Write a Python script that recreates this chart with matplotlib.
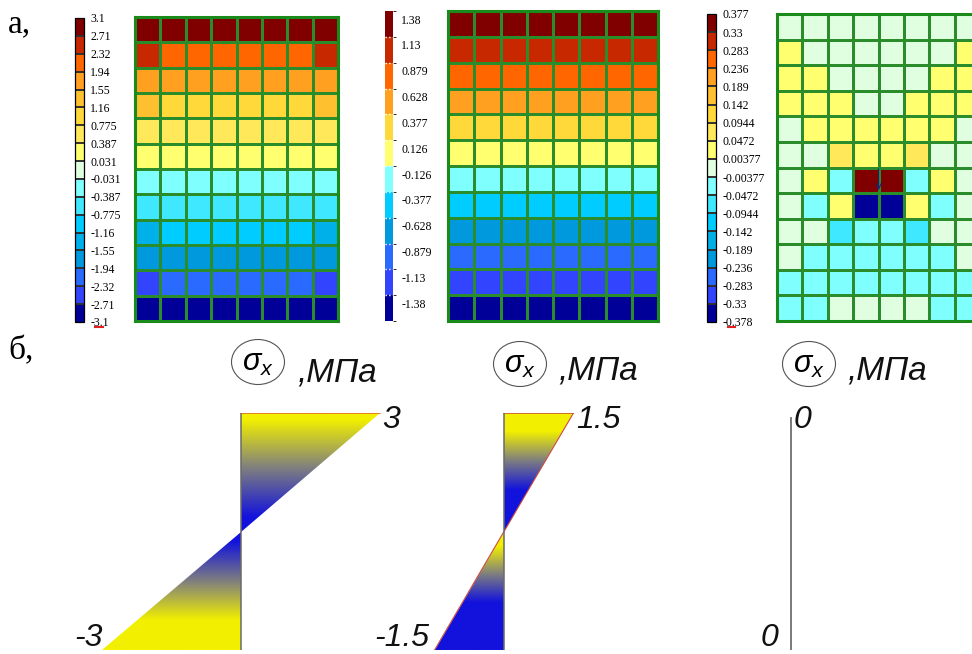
import numpy as np
import matplotlib
matplotlib.use('Agg')
import matplotlib.pyplot as plt
import matplotlib.cm as cm
from matplotlib.colors import ListedColormap, BoundaryNorm, LinearSegmentedColormap
from matplotlib.patches import Polygon, Ellipse

plt.rcParams['mathtext.fontset'] = 'custom'
plt.rcParams['mathtext.it'] = 'Liberation Sans:italic'
plt.rcParams['mathtext.rm'] = 'Liberation Sans'

#------------------------------- data ---------------------------------------#
# class colours, bottom (most negative) to top
colors17 = ['#000099', '#3344ff', '#2a6aff', '#0099dd', '#00b0e8', '#00ccff',
            '#40e8ff', '#80ffff', '#e0ffe0', '#ffff70', '#ffe85a', '#ffd83a',
            '#ffc030', '#ffa020', '#ff6600', '#c82800', '#800000']
colors12 = ['#000099', '#3344ff', '#2a6aff', '#0099dd', '#00ccff', '#80ffff',
            '#ffff70', '#ffd83a', '#ffa020', '#ff6600', '#c82800', '#800000']

levels_a1 = [-3.1, -2.71, -2.32, -1.94, -1.55, -1.16, -0.775, -0.387, -0.031,
             0.031, 0.387, 0.775, 1.16, 1.55, 1.94, 2.32, 2.71, 3.1]
labels_a2 = [-1.38, -1.13, -0.879, -0.628, -0.377, -0.126,
             0.126, 0.377, 0.628, 0.879, 1.13, 1.38]
levels_a3 = [-0.378, -0.33, -0.283, -0.236, -0.189, -0.142, -0.0944, -0.0472, -0.00377,
             0.00377, 0.0472, 0.0944, 0.142, 0.189, 0.236, 0.283, 0.33, 0.377]

# sigma_x in the 8 x 12 elements, top row first (MPa)
sx_a1 = [[2.9, 2.9, 2.9, 2.9, 2.9, 2.9, 2.9, 2.9],
         [2.5, 2.1, 2.1, 2.1, 2.1, 2.1, 2.1, 2.5],
         [1.75, 1.75, 1.75, 1.75, 1.75, 1.75, 1.75, 1.75],
         [1.35, 1.0, 1.0, 1.0, 1.0, 1.0, 1.0, 1.35],
         [0.6, 0.6, 0.6, 0.6, 0.6, 0.6, 0.6, 0.6],
         [0.2, 0.2, 0.2, 0.2, 0.2, 0.2, 0.2, 0.2],
         [-0.2, -0.2, -0.2, -0.2, -0.2, -0.2, -0.2, -0.2],
         [-0.6, -0.6, -0.6, -0.6, -0.6, -0.6, -0.6, -0.6],
         [-1.35, -1.0, -1.0, -1.0, -1.0, -1.0, -1.0, -1.35],
         [-1.75, -1.75, -1.75, -1.75, -1.75, -1.75, -1.75, -1.75],
         [-2.5, -2.1, -2.1, -2.1, -2.1, -2.1, -2.1, -2.5],
         [-2.9, -2.9, -2.9, -2.9, -2.9, -2.9, -2.9, -2.9]]

sx_a2 = [[1.38] * 8, [1.13] * 8, [0.879] * 8, [0.628] * 8, [0.377] * 8, [0.126] * 8,
         [-0.126] * 8, [-0.377] * 8, [-0.628] * 8, [-0.879] * 8, [-1.13] * 8, [-1.38] * 8]

sx_a3 = [[0.0, 0.0, 0.0, 0.0, 0.0, 0.0, 0.0, 0.0],
         [0.02, 0.0, 0.0, 0.0, 0.0, 0.0, 0.0, 0.02],
         [0.02, 0.02, 0.0, 0.0, 0.0, 0.0, 0.02, 0.02],
         [0.02, 0.02, 0.02, 0.0, 0.0, 0.02, 0.02, 0.02],
         [0.0, 0.02, 0.02, 0.02, 0.02, 0.02, 0.02, 0.0],
         [0.0, 0.0, 0.07, 0.02, 0.02, 0.07, 0.0, 0.0],
         [0.0, 0.02, -0.02, 0.35, 0.35, -0.02, 0.02, 0.0],
         [0.0, -0.02, 0.02, -0.35, -0.35, 0.02, -0.02, 0.0],
         [0.0, 0.0, -0.07, -0.02, -0.02, -0.07, 0.0, 0.0],
         [0.0, -0.02, -0.02, -0.02, -0.02, -0.02, -0.02, 0.0],
         [-0.02, -0.02, -0.02, -0.02, -0.02, -0.02, -0.02, -0.02],
         [-0.02, -0.02, 0.0, 0.0, 0.0, 0.0, -0.02, -0.02]]

# edge stress of the diagrams (MPa) and their labels
peaks_b = [3, 1.5, 0]
top_labels_b = ['3', '1.5', '0']
bot_labels_b = ['-3', '-1.5', '0']

#------------------------------- figure -------------------------------------#
W, H = 972, 654
fig = plt.figure(figsize=(W / 100, H / 100), dpi=100)


def px_axes(x0, y0, x1, y1):
    return fig.add_axes([x0 / W, 1 - y1 / H, (x1 - x0) / W, (y1 - y0) / H])


def draw_grid(box, values, levels, colors):
    ax = px_axes(*box)
    cmap = ListedColormap(colors)
    norm = BoundaryNorm(levels, cmap.N)
    ax.pcolormesh(np.array(values), cmap=cmap, norm=norm,
                  edgecolors='#2a8c2a', linewidth=0.8)
    ax.set_xlim(0, 8)
    ax.set_ylim(12, 0)
    ax.set_xticks([])
    ax.set_yticks([])
    for s in ax.spines.values():
        s.set_color('#1a8a1a')
        s.set_linewidth(2.2)
    return ax


def draw_cbar(box, levels, colors, ticks, ticklabels, pad, dotted=False):
    cax = px_axes(*box)
    cmap = ListedColormap(colors)
    norm = BoundaryNorm(levels, cmap.N)
    cb = fig.colorbar(cm.ScalarMappable(norm=norm, cmap=cmap), cax=cax,
                      spacing='uniform', drawedges=True)
    cb.set_ticks(ticks, labels=ticklabels)
    cax.tick_params(length=0, pad=pad, labelsize=8.5)
    for t in cax.get_yticklabels():
        t.set_fontfamily('Liberation Serif')
    if dotted:
        cb.dividers.set_color('white')
        cb.dividers.set_linestyle(':')
        cb.dividers.set_linewidth(1.0)
        cb.outline.set_visible(False)
    else:
        cb.dividers.set_color('#303030')
        cb.dividers.set_linewidth(1.4)
        cb.outline.set_linewidth(0.9)
    return cb


# panel a
lab_a1 = ['%g' % v for v in levels_a1]
draw_cbar((75, 18, 84, 322), levels_a1, colors17, levels_a1, lab_a1, 4.5)
draw_grid((135, 17, 338, 321), sx_a1, levels_a1, colors17)

step2 = labels_a2[1] - labels_a2[0]
bounds_a2 = [labels_a2[0] - step2 / 2] + \
    [(labels_a2[i] + labels_a2[i + 1]) / 2 for i in range(len(labels_a2) - 1)] + \
    [labels_a2[-1] + step2 / 2]
ticks_a2 = [v + 0.19 * step2 for v in labels_a2]
draw_cbar((385, 11, 393, 321), bounds_a2, colors12, ticks_a2,
          ['%g' % v for v in labels_a2], 6, dotted=True)
draw_grid((448, 11, 658, 321), sx_a2, bounds_a2, colors12)

lab_a3 = ['%g' % v for v in levels_a3]
draw_cbar((707, 14, 716, 322), levels_a3, colors17, levels_a3, lab_a3, 5)
ax3 = draw_grid((777, 14, 980, 321), sx_a3, levels_a3, colors17)
ax3.annotate('', xy=(4, 7.0), xytext=(4, 5.95),
             arrowprops=dict(arrowstyle='->', color='#20207a', lw=0.8))

# panel b: stress diagrams
yb_cmap = LinearSegmentedColormap.from_list('yb', ['#1212dd', '#7e7e80', '#f2f000'])
grad_b = [((0.12, 0.95), (-0.08, -0.75)),   # (y blue, y yellow) top / bottom
          ((0.35, 0.85), (-0.6, -0.12)),
          None]
edge_b = ['#e0602a', '#c84a3a', None]
bases_b = [240.7, 504, 791]
scale = 46.3   # px per MPa
yy = np.linspace(-1, 1, 400)[:, None] * np.ones((1, 4))

for i, peak in enumerate(peaks_b):
    xb = bases_b[i]
    ax = px_axes(xb - 200, 413, xb + 200, 650)
    ax.axis('off')
    if peak:
        tris = [[(0, 0), (0, 1), (peak, 1)], [(0, 0), (0, -1), (-peak, -1)]]
        for tri, (y_blue, y_yel) in zip(tris, grad_b[i]):
            g = np.clip((yy - y_blue) / (y_yel - y_blue), 0, 1)
            poly = Polygon(tri, closed=True, facecolor='none', edgecolor='none')
            ax.add_patch(poly)
            xs = [p[0] for p in tri]
            im = ax.imshow(g, cmap=yb_cmap, vmin=0, vmax=1, origin='lower',
                           extent=[min(xs), max(xs), -1, 1], aspect='auto',
                           interpolation='bilinear')
            im.set_clip_path(poly)
        ax.plot([0, peak], [1, 1], color=edge_b[i], lw=1.1)
        if i == 1:
            ax.plot([peak, -peak], [1, -1], color=edge_b[i], lw=0.8)
            ax.plot([0, -peak], [-1, -1], color='#3030b0', lw=0.8)
        ax.plot([0, 0], [-1, 1], color='#6a6a6a', lw=1.1)
    else:
        ax.plot([0, 0], [-1, 0.96], color='#707070', lw=1.3)
    ax.set_xlim(-200 / scale, 200 / scale)
    ax.set_ylim(-1, 1)
    tkw = dict(textcoords='offset pixels', fontsize=23, style='italic',
               family='Liberation Sans', color='#111111', annotation_clip=False)
    ax.annotate(top_labels_b[i], xy=(peak, 1), xytext=(3, -15), ha='left',
                va='baseline', **tkw)
    bx = [1, -5, -13][i]
    ax.annotate(bot_labels_b[i], xy=(-peak, -1), xytext=(bx, 4), ha='right',
                va='baseline', **tkw)

# overlay for captions (pixel coordinates)
ov = fig.add_axes([0, 0, 1, 1])
ov.set_xlim(0, W)
ov.set_ylim(H, 0)
ov.axis('off')
ov.text(8, 32, 'а,', fontsize=24, family='Liberation Serif', va='baseline')
ov.text(8, 359, 'б,', fontsize=24, family='Liberation Serif', va='baseline')
for cx, cy, tx, ty in [(258, 362, 297, 382), (520, 364, 558, 379), (809, 364, 847, 380)]:
    ov.add_patch(Ellipse((cx, cy), 53, 45, facecolor='none', edgecolor='#555555', lw=0.8))
    ov.text(cx, cy + 1, r'$\sigma_x$', fontsize=22, ha='center', va='center')
    ov.text(tx, ty, ',МПа', fontsize=24, style='italic', family='Liberation Sans',
            ha='left', va='baseline', color='#111111')
ov.plot([95, 103], [327, 327], color='#e02020', lw=1.5)
ov.plot([728, 735], [327, 327], color='#e02020', lw=1.5)

fig.savefig('out.png', dpi=100)
